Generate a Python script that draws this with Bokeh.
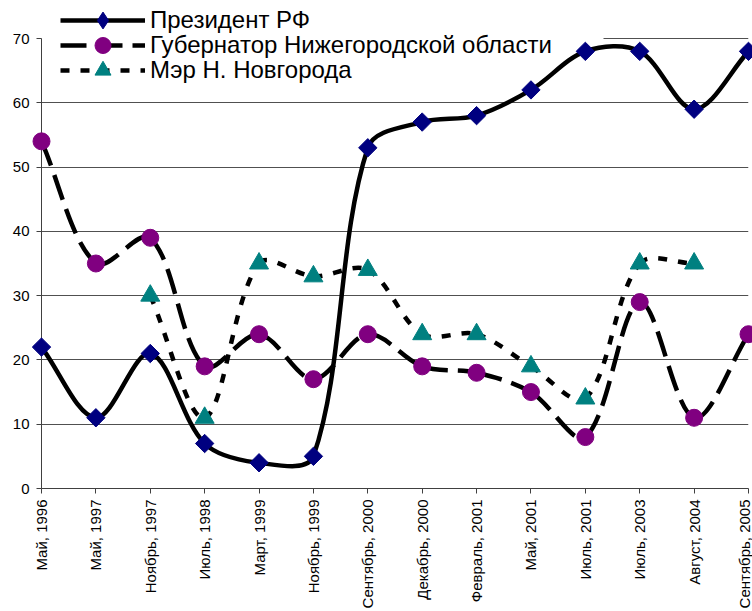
import math
import numpy as np
from bokeh.plotting import figure
from bokeh.models import ColumnDataSource, Range1d, FixedTicker, Legend, LegendItem, BoxAnnotation
from bokeh.embed import file_html
from bokeh.resources import INLINE

categories = ["Май, 1996", "Май, 1997", "Ноябрь, 1997", "Июль, 1998", "Март, 1999",
              "Ноябрь, 1999", "Сентябрь, 2000", "Декабрь, 2000", "Февраль, 2001",
              "Май, 2001", "Июль, 2001", "Июль, 2003", "Август, 2004", "Сентябрь, 2005"]
president = [22, 11, 21, 7, 4, 5, 53, 57, 58, 62, 68, 68, 59, 68]
governor = [54, 35, 39, 19, 24, 17, 24, 19, 18, 15, 8, 29, 11, 24]
mayor = [None, None, 30, 11, 35, 33, 34, 24, 24, 19, 14, 35, 35, None]
series_names = ["Президент РФ", "Губернатор Нижегородской области", "Мэр Н. Новгорода"]
y_ticks = [0, 10, 20, 30, 40, 50, 60, 70]

FONT = "Liberation Sans"
W, H = 752, 611
FRAME_LEFT = 41      # px, left border
FRAME_RIGHT = 4
FRAME_H = 488        # expected frame height (px)
TOP_GAP = 38         # px between frame top and the 70 line
Y_END = 70 * FRAME_H / (FRAME_H - TOP_GAP)
X_PX = (W - FRAME_LEFT - FRAME_RIGHT) / (len(categories) - 1)
Y_PX = FRAME_H / Y_END


def bezier_segments(vals):
    """Smoothed (Excel-like) curve pieces between consecutive known points."""
    runs, cur = [], []
    for i, v in enumerate(vals):
        if v is None:
            if cur:
                runs.append(cur)
                cur = []
        else:
            cur.append((i, v))
    if cur:
        runs.append(cur)
    seg = {k: [] for k in ("x0", "y0", "x1", "y1", "cx0", "cy0", "cx1", "cy1")}

    def d(a, b):
        return math.hypot((b[0] - a[0]) * X_PX, (b[1] - a[1]) * Y_PX)

    for run in runs:
        n = len(run)
        for k in range(n - 1):
            p0 = run[k - 1] if k > 0 else run[k]
            p1, p2 = run[k], run[k + 1]
            p3 = run[k + 2] if k + 2 < n else run[k + 1]
            d01, d12, d23 = d(p0, p1), d(p1, p2), d(p2, p3)
            f1 = d12 / (d01 + d12) / 3
            f2 = d12 / (d12 + d23) / 3
            seg["x0"].append(p1[0]); seg["y0"].append(p1[1])
            seg["x1"].append(p2[0]); seg["y1"].append(p2[1])
            seg["cx0"].append(p1[0] + (p2[0] - p0[0]) * f1)
            seg["cy0"].append(p1[1] + (p2[1] - p0[1]) * f1)
            seg["cx1"].append(p2[0] - (p3[0] - p1[0]) * f2)
            seg["cy1"].append(p2[1] - (p3[1] - p1[1]) * f2)
    return seg


p = figure(width=W, height=H, output_backend="svg", toolbar_location=None,
           x_range=Range1d(0, len(categories) - 1),
           y_range=Range1d(0, Y_END),
           min_border_left=FRAME_LEFT, min_border_right=FRAME_RIGHT,
           min_border_top=0, min_border_bottom=0)
p.outline_line_color = None
p.background_fill_color = "white"

# axes
p.xaxis.ticker = FixedTicker(ticks=list(range(len(categories))))
p.xaxis.major_label_overrides = {i: c for i, c in enumerate(categories)}
p.xaxis.major_label_orientation = math.pi / 2
p.yaxis.ticker = FixedTicker(ticks=y_ticks)
p.yaxis.bounds = (0, y_ticks[-1])
for ax in (p.xaxis[0], p.yaxis[0]):
    ax.axis_line_color = "#404040"
    ax.axis_line_width = 1
    ax.major_tick_line_color = "#404040"
    ax.major_tick_in = 0
    ax.major_tick_out = 5
    ax.minor_tick_in = 0
    ax.minor_tick_out = 0
    ax.major_label_text_font = FONT
    ax.major_label_text_color = "black"
p.xaxis.major_label_text_font_size = "15px"
p.yaxis.major_label_text_font_size = "15px"
p.xaxis.major_label_standoff = 6
p.yaxis.major_label_standoff = 7

p.xgrid.visible = False
p.ygrid.ticker = FixedTicker(ticks=y_ticks[1:])
p.ygrid.grid_line_color = "#505050"
p.ygrid.grid_line_width = 1

# white legend area hiding the top gridline (drawn under the series)
p.add_layout(BoxAnnotation(left=None, right=562, right_units="screen",
                           top=None, bottom=y_ticks[-1] - 0.4,
                           fill_color="white", fill_alpha=1.0, line_color=None,
                           level="underlay"))

styles = [
    dict(dash="solid", marker="square", size=13, angle=math.pi / 4, color="#000080", lmarker="diamond"),
    dict(dash="26 10", marker="circle", size=17, angle=0, color="#800080", lmarker="circle"),
    dict(dash="9 11", marker="triangle", size=19, angle=0, color="#008080", lmarker="triangle"),
]
series = [president, governor, mayor]

for vals, st in zip(series, styles):
    src = ColumnDataSource(bezier_segments(vals))
    p.bezier(x0="x0", y0="y0", x1="x1", y1="y1", cx0="cx0", cy0="cy0", cx1="cx1", cy1="cy1",
             source=src, line_color="black", line_width=4.5, line_dash=st["dash"])
for vals, st in zip(series, styles):
    ys = [np.nan if v is None else v for v in vals]
    p.scatter(x=list(range(len(categories))), y=ys, marker=st["marker"],
              size=st["size"], angle=st["angle"],
              fill_color=st["color"], line_color=st["color"], level="overlay")

# legend proxies
legend_parts = []
for st in styles:
    ln = p.line(x=[np.nan], y=[np.nan], line_color="black", line_width=4.5, line_dash=st["dash"])
    mk = p.scatter(x=[np.nan], y=[np.nan], marker=st["lmarker"], fill_color=st["color"],
                   line_color=st["color"])
    legend_parts.append([ln, mk])


def make_legend(i, glyph_h, vx, center_from_top):
    return Legend(items=[LegendItem(label=series_names[i], renderers=legend_parts[i])],
                  location=(vx, FRAME_H - (center_from_top + glyph_h / 2)),
                  glyph_height=glyph_h, glyph_width=85, padding=0, spacing=0,
                  label_standoff=5, label_height=20,
                  label_text_font=FONT, label_text_font_size="24px", label_text_color="black",
                  border_line_color=None, background_fill_alpha=0.0, margin=0)


p.add_layout(make_legend(0, 42, 19, 20))
p.add_layout(make_legend(1, 40, 19, 45))
p.add_layout(make_legend(2, 40, 19, 70))

open("out.html", "w").write(file_html(p, INLINE))
